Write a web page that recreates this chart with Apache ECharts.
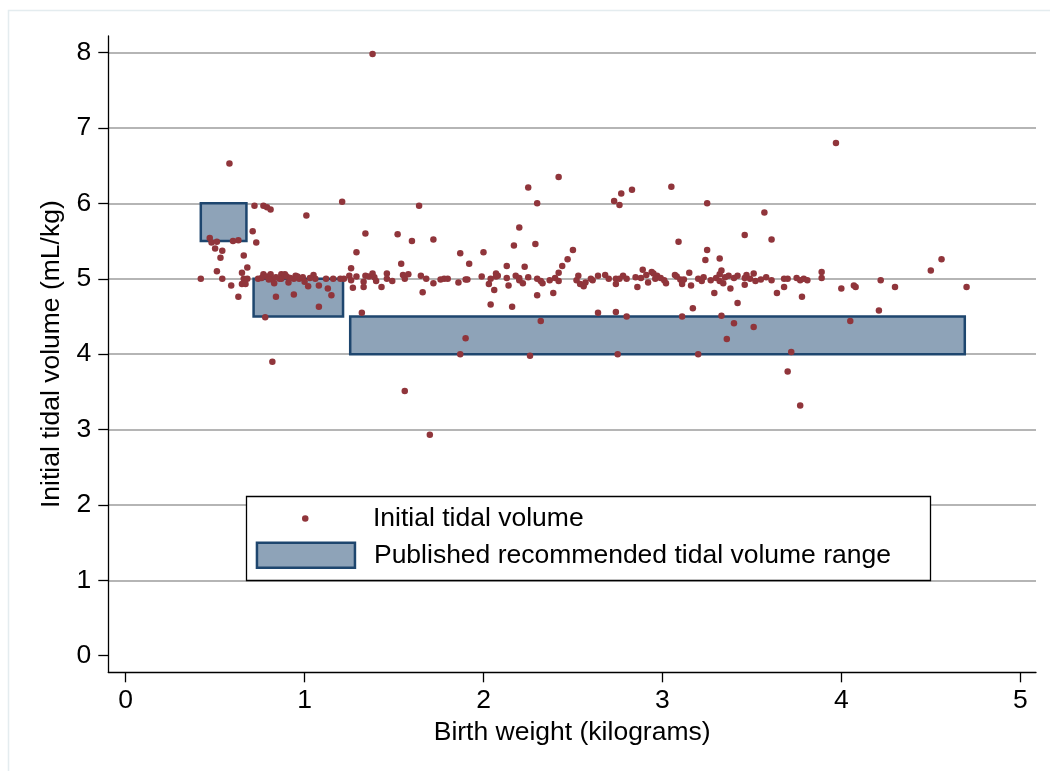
<!DOCTYPE html>
<html><head><meta charset="utf-8">
<script src="https://cdn.jsdelivr.net/npm/echarts@6/dist/echarts.min.js"></script>
<style>html,body{margin:0;padding:0;background:#fff}#c{width:1050px;height:771px}</style>
</head><body><div id="c"></div>
<script>
const xTicks = [0, 1, 2, 3, 4, 5];
const yTicks = [0, 1, 2, 3, 4, 5, 6, 7, 8];
const gridValues = [1, 8];

const birthWeight = [
  0.47,0.48,0.51,0.60,0.63,0.71,0.73,0.50,0.54,0.53,
  0.66,0.68,0.51,0.65,0.42,0.54,0.66,0.68,0.59,0.65,
  0.67,0.63,0.74,0.77,0.79,0.81,0.82,0.83,0.87,0.89,
  0.87,0.86,0.91,0.95,0.94,0.97,0.99,1.00,1.02,0.84,
  0.94,1.05,1.06,1.08,1.08,1.12,1.13,1.15,1.16,1.20,
  1.22,1.25,1.26,1.26,1.27,1.29,1.29,0.78,0.80,0.84,
  0.90,0.92,0.96,1.03,0.76,
  0.58,0.72,0.77,0.79,0.81,1.21,1.01,0.82,1.34,1.32,1.38,
  1.33,1.33,1.34,1.36,1.38,1.39,1.40,1.43,1.46,1.46,
  1.49,1.54,1.55,1.56,1.58,1.65,1.66,1.68,1.72,1.76,
  1.78,1.80,1.86,1.87,1.90,1.91,1.92,1.99,2.00,2.03,
  2.04,2.04,2.06,2.07,2.07,2.08,2.13,2.13,2.14,2.16,
  2.18,2.20,2.20,2.22,2.23,2.25,2.30,2.30,2.32,2.33,
  2.37,2.39,2.40,2.42,2.42,2.44,2.47,2.50,2.52,2.53,
  2.54,2.56,2.57,2.61,2.64,2.68,2.70,2.74,2.74,2.78,
  2.80,2.85,2.86,2.89,2.88,2.91,2.92,2.94,2.95,2.97,
  2.99,3.01,3.02,
  1.64,2.25,2.42,2.30,1.52,1.60,1.72,2.20,2.17,2.29,2.32,1.90,1.87,2.26,
  2.73,2.76,2.77,2.83,3.05,3.25,3.57,3.46,3.61,3.09,
  3.42,3.17,2.64,2.74,2.80,3.11,3.33,3.40,3.51,3.36,
  2.75,3.20,2.76,2.96,2.60,
  3.07,3.08,3.10,3.11,3.12,3.11,3.15,3.16,3.20,3.22,
  3.23,3.24,3.25,3.27,3.29,3.30,3.32,3.32,3.33,3.32,
  3.34,3.35,3.37,3.38,3.40,3.42,3.46,3.46,3.47,3.49,
  3.51,3.52,3.55,3.58,3.61,3.64,3.68,3.68,3.70,3.75,
  3.77,3.78,3.79,3.81,3.89,3.89,
  4.00,4.07,4.08,4.22,4.30,4.50,4.56,4.70,4.21,4.05,3.72,3.70,3.77,3.97,1.56,1.70
];
const tidalVolume = [
  5.54,5.48,5.49,5.50,5.51,5.63,5.48,5.40,5.37,5.28,
  5.31,5.15,5.10,5.08,5.00,5.00,5.00,5.00,4.91,4.93,
  4.93,4.76,5.00,5.06,5.03,5.06,4.99,4.94,5.06,5.06,
  5.00,5.00,4.95,5.04,5.00,5.00,5.02,4.96,4.90,4.76,
  4.79,5.05,5.00,4.91,4.63,5.00,4.87,4.78,5.00,5.00,
  5.00,5.04,5.14,4.98,4.88,5.35,5.03,4.49,4.99,5.02,
  5.03,5.01,5.03,5.01,5.01,
  6.53,5.97,5.97,5.95,5.92,6.02,5.84,3.90,5.60,4.55,7.98,
  4.96,4.89,5.04,5.03,5.07,5.02,4.97,4.89,5.07,5.00,
  4.97,5.20,5.05,5.00,5.06,5.04,4.82,5.00,4.94,4.99,
  5.00,5.00,4.95,5.34,4.99,4.99,5.20,5.03,5.35,4.93,
  4.66,5.00,4.85,5.07,5.03,5.04,5.17,5.01,4.91,4.63,
  5.04,5.01,4.98,4.94,5.16,5.02,4.78,5.00,4.97,4.94,
  4.98,4.81,5.01,5.08,4.97,5.17,5.26,5.38,4.98,5.04,
  4.93,4.90,4.95,4.98,5.04,5.05,5.00,5.00,4.93,5.04,
  5.00,5.02,4.89,5.12,5.01,5.05,4.95,5.09,5.07,5.04,
  5.01,4.98,4.94,
  5.97,6.21,6.35,6.00,5.59,5.50,5.52,5.68,5.44,5.46,4.44,4.21,4.00,3.98,
  6.03,5.98,6.13,6.18,6.22,6.00,5.88,5.58,5.52,5.49,
  4.68,4.61,4.55,4.56,4.50,4.50,4.51,4.41,4.36,4.20,
  4.00,4.00,5.00,5.00,5.00,
  5.05,5.03,4.99,4.97,4.99,4.93,5.08,4.91,5.00,4.97,
  5.02,5.25,5.38,4.98,4.81,5.01,5.27,5.06,5.11,4.97,
  4.94,5.02,5.04,4.87,5.01,5.04,5.01,4.92,5.05,5.00,
  5.07,4.97,4.99,5.02,4.98,4.81,5.00,4.89,5.00,5.01,
  4.98,4.76,5.00,4.98,5.01,5.09,
  4.87,4.91,4.89,4.98,4.89,5.11,5.26,4.89,4.58,4.44,4.03,3.77,3.32,6.80,3.51,2.93
];

const rangeLowWeight = [0.42, 0.715, 1.255];
const rangeHighWeight = [0.675, 1.215, 4.69];
const rangeLowVolume = [5.5, 4.5, 4.0];
const rangeHighVolume = [6.0, 5.0, 4.5];

const FONT = "'Liberation Sans', Arial, Helvetica, sans-serif";
const DOT = '#90353b';
const BOX_FILL = '#8ea3b8';
const BOX_EDGE = '#1e466e';

const points = birthWeight.map((w, i) => [w, tidalVolume[i]]);
const ranges = rangeLowWeight.map((w, i) => [w, rangeHighWeight[i], rangeLowVolume[i], rangeHighVolume[i]]);

const chart = echarts.init(document.getElementById('c'), null, { renderer: 'canvas' });
const labelStyle = { fontSize: 26.5, color: '#000', fontFamily: FONT };

chart.setOption({
  animation: false,
  backgroundColor: '#fff',
  textStyle: { fontFamily: FONT },
  grid: [
    { left: 108.3, right: 14, top: 36, bottom: 98.7, outerBoundsMode: 'none' },
    { left: 108.3, right: 14, top: 52.6, bottom: 190.7, outerBoundsMode: 'none' }
  ],
  xAxis: [
    {
      type: 'value', gridIndex: 0, min: -0.097, max: 5.088,
      axisLine: { onZero: false, lineStyle: { color: '#000', width: 1.3 } },
      axisTick: { customValues: xTicks, length: 10, lineStyle: { color: '#000', width: 1.3 } },
      axisLabel: Object.assign({ customValues: xTicks, margin: 15 }, labelStyle),
      splitLine: { show: false },
      name: 'Birth weight (kilograms)', nameLocation: 'middle', nameGap: 45.5,
      nameTextStyle: labelStyle
    },
    { type: 'value', gridIndex: 1, min: 0, max: 1, show: false }
  ],
  yAxis: [
    {
      type: 'value', gridIndex: 0, min: -0.22, max: 8.22,
      axisLine: { show: true, onZero: false, lineStyle: { color: '#000', width: 1.3 } },
      axisTick: { show: true, customValues: yTicks, length: 10, lineStyle: { color: '#000', width: 1.3 } },
      axisLabel: Object.assign({ customValues: yTicks, margin: 17 }, labelStyle),
      splitLine: { show: false },
      name: 'Initial tidal volume (mL/kg)', nameLocation: 'middle', nameGap: 42,
      nameTextStyle: labelStyle
    },
    {
      type: 'value', gridIndex: 1, min: gridValues[0], max: gridValues[1], interval: 1,
      axisLine: { show: false }, axisTick: { show: false }, axisLabel: { show: false },
      splitLine: { show: true, lineStyle: { color: '#b5b5b5', width: 1.8 } }
    }
  ],
  legend: [
    {
      left: 302, top: 505, padding: 0, itemWidth: 6.5, itemHeight: 6.5, selectedMode: false,
      data: [{ name: 'Initial tidal volume', icon: 'circle', itemStyle: { color: DOT } }],
      textStyle: Object.assign({ padding: [0, 0, 0, 59.5] }, labelStyle)
    },
    {
      left: 255.7, top: 541.6, padding: 0, itemWidth: 98, itemHeight: 25, selectedMode: false,
      data: [{ name: 'Published recommended tidal volume range', icon: 'rect',
               itemStyle: { color: BOX_FILL, borderColor: BOX_EDGE, borderWidth: 2.5 } }],
      textStyle: Object.assign({ padding: [0, 0, 0, 14] }, labelStyle)
    }
  ],
  graphic: {
    elements: [
      { type: 'rect', z: 0, silent: true, shape: { x: 8.5, y: 10.5, width: 1100, height: 800 },
        style: { fill: 'none', stroke: '#e4ecef', lineWidth: 1.5 } },
      { type: 'rect', z: 3, silent: true, shape: { x: 246.5, y: 496.5, width: 684, height: 84 },
        style: { fill: '#fff', stroke: '#000', lineWidth: 1.3 } }
    ]
  },
  series: [
    {
      name: 'Published recommended tidal volume range',
      type: 'custom', xAxisIndex: 0, yAxisIndex: 0,
      data: ranges,
      encode: { x: [0, 1], y: [2, 3] },
      itemStyle: { color: BOX_FILL, borderColor: BOX_EDGE, borderWidth: 2.5 },
      renderItem: function (params, api) {
        const p0 = api.coord([api.value(0), api.value(3)]);
        const p1 = api.coord([api.value(1), api.value(2)]);
        return {
          type: 'rect',
          shape: { x: p0[0], y: p0[1], width: p1[0] - p0[0], height: p1[1] - p0[1] },
          style: { fill: BOX_FILL, stroke: BOX_EDGE, lineWidth: 2.5 }
        };
      }
    },
    {
      name: 'Initial tidal volume',
      type: 'scatter', xAxisIndex: 0, yAxisIndex: 0,
      symbolSize: 6.5,
      itemStyle: { color: DOT, opacity: 1 },
      data: points
    }
  ]
});
</script>
</body></html>
